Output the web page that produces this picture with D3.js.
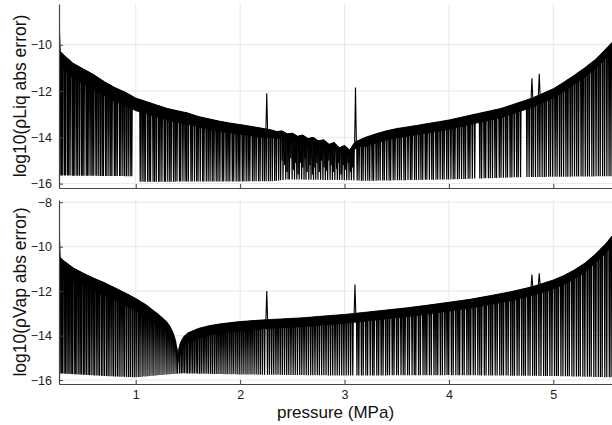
<!DOCTYPE html>
<html>
<head>
<meta charset="utf-8">
<script src="https://cdn.jsdelivr.net/npm/d3@7"></script>
<style>
  body { margin: 0; background: #fff; }
  text { font-family: "Liberation Sans", Arial, sans-serif; }
</style>
</head>
<body>
<script>
// ---- data (pressure in MPa, values are log10 errors) ----

// liquid density error: upper edge of the dense band and lower edge of the band
var liqP = [0.265,0.28,0.3,0.4,0.5,0.6,0.7,0.8,0.9,1.0,1.1,1.2,1.3,1.4,1.5,1.6,1.7,1.8,1.9,2.0,2.1,2.2,2.3,2.35,2.4,2.45,2.5,2.55,2.6,2.65,2.7,2.75,2.8,2.85,2.9,2.95,3.0,3.05,3.1,3.15,3.2,3.3,3.4,3.5,3.6,3.7,3.8,3.9,4.0,4.1,4.2,4.3,4.4,4.5,4.6,4.7,4.8,4.9,5.0,5.1,5.2,5.3,5.4,5.5,5.562];
var liqTop = [-10.15,-10.3,-10.4,-10.8,-11.05,-11.3,-11.6,-11.85,-12.05,-12.3,-12.45,-12.6,-12.75,-12.85,-12.95,-13.1,-13.2,-13.3,-13.38,-13.45,-13.52,-13.6,-13.68,-13.75,-13.72,-13.85,-13.82,-13.95,-13.9,-14.05,-14.0,-14.15,-14.1,-14.3,-14.22,-14.45,-14.35,-14.55,-14.2,-14.1,-14.0,-13.85,-13.72,-13.62,-13.55,-13.48,-13.4,-13.33,-13.25,-13.15,-13.05,-12.95,-12.85,-12.75,-12.6,-12.45,-12.3,-12.1,-11.9,-11.62,-11.32,-11.0,-10.65,-10.2,-9.9];
var liqBand = [-10.9,-10.95,-11.05,-11.45,-11.7,-11.95,-12.2,-12.45,-12.62,-12.85,-12.98,-13.12,-13.25,-13.35,-13.43,-13.56,-13.65,-13.74,-13.8,-13.87,-13.93,-14.0,-14.0,-14.05,-14.02,-14.15,-14.12,-14.25,-14.2,-14.35,-14.3,-14.45,-14.4,-14.6,-14.52,-14.75,-14.65,-14.85,-14.5,-14.4,-14.4,-14.25,-14.12,-14.02,-13.95,-13.88,-13.8,-13.73,-13.65,-13.55,-13.45,-13.35,-13.25,-13.15,-13.0,-12.85,-12.7,-12.5,-12.3,-12.02,-11.72,-11.4,-11.05,-10.6,-10.3];
var liqFloorP = [0.265,0.96,1.04,2.3,2.45,3.0,3.2,4.0,4.7,5.562];
var liqFloorV = [-15.65,-15.68,-15.92,-15.9,-15.82,-15.85,-15.88,-15.82,-15.72,-15.68];
// pressures where the liquid error dips to machine precision
var liqDrops = [0.276,0.289,0.301,0.318,0.329,0.347,0.358,0.371,0.392,0.403,0.417,0.436,0.445,0.462,0.481,0.493,0.504,0.526,0.537,0.552,0.571,0.583,0.598,0.619,0.628,0.646,0.663,0.679,0.691,0.712,0.724,0.743,0.761,0.772,0.795,0.809,0.823,0.846,0.858,0.877,0.894,0.911,0.928,0.947,0.962,
  1.043,1.061,1.079,1.091,1.114,1.129,1.142,1.166,1.181,1.197,1.219,1.232,1.251,1.274,1.286,1.307,1.326,1.339,1.362,1.378,1.395,1.419,1.431,1.452,1.473,1.488,1.504,1.529,1.541,1.563,1.584,1.597,1.618,1.641,1.653,1.676,1.694,1.712,1.733,1.749,1.771,1.788,1.806,1.829,1.843,1.866,1.884,1.901,1.925,1.939,1.962,1.981,1.997,2.021,2.036,2.058,2.077,2.093,2.118,2.134,2.153,2.176,2.191,2.214,2.232,2.249,2.271,2.289,2.308,2.331,2.347,2.369,2.388,
  2.411,2.437,2.459,2.472,2.498,2.521,2.543,2.566,2.589,2.612,2.631,2.658,2.679,2.703,2.724,2.746,2.771,2.793,2.816,2.838,2.862,2.884,2.907,2.931,2.952,2.976,2.998,3.021,3.043,3.066,3.089,
  3.121,3.139,3.162,3.178,3.201,3.223,3.241,3.264,3.279,3.303,3.322,3.341,3.366,3.381,3.404,3.427,3.442,3.466,3.483,3.507,3.526,3.544,3.569,3.584,3.608,3.631,3.646,3.671,3.688,3.711,3.732,3.749,3.774,3.789,3.813,3.836,3.851,3.876,3.893,3.916,3.938,3.954,3.979,3.996,4.019,4.041,4.057,4.082,4.099,4.121,4.143,4.159,4.184,4.201,4.224,4.247,
  4.296,4.313,4.337,4.352,4.378,4.396,4.417,4.441,4.456,4.482,4.499,4.522,4.545,4.561,4.586,4.603,4.626,4.649,4.664,4.686,
  4.747,4.768,4.791,4.807,4.829,4.852,4.871,4.893,4.914,4.932,4.956,4.973,4.994,5.017,5.036,5.059,5.077,5.098,5.121,5.139,5.162,5.181,5.203,5.224,5.242,5.266,5.284,5.306,5.327,5.345,5.369,5.387,5.409,5.431,5.449,5.472,5.491,5.513,5.534,5.552];
// shorter dips in the noisy stretch: [pressure, lowest value]
var liqShort = [[2.403,-15.0],[2.426,-15.2],[2.449,-15.5],[2.486,-14.9],[2.51,-15.4],[2.532,-15.1],[2.555,-15.6],[2.577,-15.1],[2.6,-15.3],[2.621,-14.9],[2.641,-15.5],[2.668,-15.2],[2.692,-15.6],[2.716,-15.3],[2.735,-15.1],[2.758,-15.5],[2.779,-15.0],[2.805,-15.3],[2.829,-15.45],[2.85,-15.0],[2.872,-15.2],[2.895,-15.5],[2.924,-15.35],[2.943,-15.1],[2.967,-15.6],[2.989,-15.2],[3.012,-15.4],[3.033,-15.1],[3.057,-15.5],[3.078,-15.3]];
// isolated spikes: [pressure, peak value]
var liqSpikes = [[0.268,-9.2],[2.255,-12.1],[3.105,-11.85],[4.795,-11.45],[4.865,-11.25]];

// vapour density error
var vapP = [0.265,0.28,0.3,0.4,0.5,0.6,0.7,0.8,0.9,1.0,1.1,1.2,1.25,1.3,1.33,1.36,1.38,1.395,1.405,1.415,1.43,1.46,1.5,1.6,1.7,1.8,1.9,2.0,2.2,2.4,2.6,2.8,3.0,3.2,3.4,3.6,3.8,4.0,4.2,4.4,4.6,4.8,5.0,5.1,5.2,5.3,5.4,5.5,5.562];
var vapTop = [-10.35,-10.5,-10.6,-10.95,-11.2,-11.42,-11.62,-11.85,-12.08,-12.33,-12.62,-12.98,-13.18,-13.4,-13.6,-13.9,-14.2,-14.6,-14.9,-14.55,-14.3,-14.05,-13.88,-13.68,-13.56,-13.48,-13.42,-13.37,-13.3,-13.25,-13.2,-13.12,-13.05,-12.95,-12.85,-12.75,-12.63,-12.5,-12.37,-12.2,-12.02,-11.8,-11.5,-11.3,-11.05,-10.75,-10.35,-9.88,-9.52];
var vapBand = [-11.0,-11.1,-11.2,-11.55,-11.78,-12.0,-12.2,-12.42,-12.65,-12.88,-13.15,-13.48,-13.68,-13.88,-14.08,-14.35,-14.62,-14.95,-15.2,-15.0,-14.8,-14.55,-14.3,-14.1,-13.98,-13.9,-13.83,-13.78,-13.7,-13.65,-13.6,-13.52,-13.45,-13.35,-13.25,-13.15,-13.03,-12.9,-12.77,-12.6,-12.42,-12.2,-11.9,-11.7,-11.45,-11.15,-10.75,-10.3,-9.95];
var vapFloorP = [0.265,0.7,1.0,1.3,1.45,2.0,3.0,4.0,5.0,5.562];
var vapFloorV = [-15.7,-15.82,-15.88,-15.75,-15.7,-15.75,-15.8,-15.78,-15.82,-15.88];
var vapDrops = [0.275,0.287,0.298,0.314,0.326,0.341,0.353,0.369,0.382,0.394,0.411,0.425,0.437,0.455,0.468,0.482,0.499,0.512,0.527,0.544,0.557,0.573,0.591,0.603,0.621,0.638,0.652,0.671,0.686,0.702,0.721,0.736,0.753,0.772,0.788,0.806,0.824,0.841,0.859,0.878,0.894,0.913,0.932,0.949,0.968,0.986,1.004,1.024,1.041,1.061,1.079,1.098,1.117,1.136,1.156,1.174,1.194,1.213,1.232,1.252,1.271,1.291,1.309,1.328,1.347,1.366,1.386,1.401,
  1.421,1.437,1.452,1.466,1.483,1.497,1.514,1.529,1.546,1.562,1.579,1.594,1.612,1.628,1.646,1.663,1.681,1.698,1.717,1.734,1.753,1.771,1.789,1.808,1.826,1.845,1.864,1.882,1.902,1.921,1.939,1.959,1.978,1.997,2.017,2.036,2.056,2.075,2.095,2.114,2.134,2.154,2.173,2.193,2.213,2.234,2.262,2.281,2.302,2.322,2.343,2.363,2.384,2.404,2.425,2.446,2.466,2.487,2.508,2.528,2.549,2.571,2.591,2.612,2.633,2.654,2.676,2.696,2.717,2.739,2.759,2.781,2.802,2.823,2.845,2.866,2.887,2.909,2.93,2.951,2.973,2.994,3.016,3.037,3.058,3.079,
  3.119,3.137,3.162,3.179,3.204,3.221,3.246,3.268,3.283,3.309,3.327,3.351,3.369,3.394,3.412,3.431,3.457,3.474,3.499,3.516,3.541,3.562,3.579,3.604,3.621,3.647,3.668,3.683,3.709,3.726,3.752,3.771,3.788,3.813,3.831,3.857,3.876,3.893,3.918,3.937,3.961,3.982,3.998,4.024,4.041,4.066,4.087,4.103,4.129,4.146,4.172,4.191,4.208,4.233,4.252,4.277,4.296,4.313,4.339,4.356,4.381,4.401,4.418,4.443,4.462,4.487,4.506,4.523,4.548,4.567,4.592,4.611,4.628,4.653,4.672,4.697,4.716,4.733,4.758,4.777,4.802,4.821,4.838,4.862,4.882,4.907,4.926,4.943,4.967,4.987,5.012,5.031,5.048,5.073,5.092,5.116,5.136,5.153,5.178,5.197,5.221,5.241,5.258,5.283,5.302,5.326,5.346,5.363,5.388,5.407,5.431,5.451,5.468,5.493,5.512,5.536,5.553];
var vapShort = [];
var vapSpikes = [[0.268,-9.4],[2.255,-12.0],[3.10,-11.7],[4.795,-11.25],[4.865,-11.2]];

var xTicks = [1, 2, 3, 4, 5];

// ---- layout ----
var width = 612, height = 425;
var left = 59, right = 612;

var svg = d3.select("body").append("svg").attr("width", width).attr("height", height);

var x = d3.scaleLinear().domain([0.265, 5.562]).range([left, right]);

function panel(id, top, bottom, yDomain, yTicks, P, upper, band, floorP, floorV, drops, shorts, spikes, label, showX) {
  var y = d3.scaleLinear().domain(yDomain).range([bottom, top]);
  var envTop = d3.scaleLinear().domain(P).range(upper).clamp(true);
  var floor = d3.scaleLinear().domain(floorP).range(floorV).clamp(true);
  var w = 0.005; // half width of one dip (the trace goes down and back up)

  var g = svg.append("g");

  g.append("clipPath").attr("id", id).append("rect")
    .attr("x", left).attr("y", top).attr("width", right - left).attr("height", bottom - top);

  // grid
  g.append("g").selectAll("line").data(xTicks).enter().append("line")
    .attr("x1", function(d) { return x(d); }).attr("x2", function(d) { return x(d); })
    .attr("y1", top).attr("y2", bottom)
    .attr("stroke", "#e8e8e8").attr("stroke-width", 1);
  g.append("g").selectAll("line").data(yTicks).enter().append("line")
    .attr("x1", left).attr("x2", right)
    .attr("y1", function(d) { return y(d); }).attr("y2", function(d) { return y(d); })
    .attr("stroke", "#e8e8e8").attr("stroke-width", 1);

  var plot = g.append("g").attr("clip-path", "url(#" + id + ")");

  // dips down to the floor, drawn as narrow V's
  plot.append("g").selectAll("path").data(drops).enter().append("path")
    .attr("d", function(d) {
      return "M" + x(d - w) + "," + y(envTop(d - w)) +
             "L" + x(d) + "," + y(floor(d)) +
             "L" + x(d + w) + "," + y(envTop(d + w));
    })
    .attr("fill", "none").attr("stroke", "#000").attr("stroke-width", 1.2);

  plot.append("g").selectAll("path").data(shorts).enter().append("path")
    .attr("d", function(d) {
      return "M" + x(d[0] - w) + "," + y(envTop(d[0] - w)) +
             "L" + x(d[0]) + "," + y(d[1]) +
             "L" + x(d[0] + w) + "," + y(envTop(d[0] + w));
    })
    .attr("fill", "none").attr("stroke", "#000").attr("stroke-width", 1);

  // dense band of the oscillating error
  var rows = P.map(function(p, i) { return {p: p, hi: upper[i], lo: band[i]}; });
  plot.append("path").datum(rows)
    .attr("d", d3.area()
      .x(function(d) { return x(d.p); })
      .y0(function(d) { return y(d.lo); })
      .y1(function(d) { return y(d.hi); }))
    .attr("fill", "#000").attr("stroke", "#000").attr("stroke-width", 0.8);

  // spikes
  plot.append("g").selectAll("path").data(spikes).enter().append("path")
    .attr("d", function(d) {
      return "M" + x(d[0] - 0.008) + "," + y(envTop(d[0] - 0.008)) +
             "L" + x(d[0]) + "," + y(d[1]) +
             "L" + x(d[0] + 0.008) + "," + y(envTop(d[0] + 0.008));
    })
    .attr("fill", "none").attr("stroke", "#000").attr("stroke-width", 1.1);

  // axes
  var yAxis = d3.axisLeft(y).tickValues(yTicks).tickSizeInner(-4).tickSizeOuter(0).tickPadding(7);
  var ya = g.append("g").attr("transform", "translate(" + left + ",0)").call(yAxis);
  ya.select(".domain").attr("stroke", "#444").attr("stroke-width", 1.2);
  ya.selectAll(".tick line").attr("stroke", "#444");
  ya.selectAll(".tick text").attr("font-size", 12.5).attr("fill", "#222")
    .attr("font-family", "Liberation Sans, Arial, sans-serif");

  var xAxis = d3.axisBottom(x).tickValues(xTicks).tickSizeInner(-4).tickSizeOuter(0).tickPadding(6)
    .tickFormat(showX ? d3.format("d") : "");
  var xa = g.append("g").attr("transform", "translate(0," + bottom + ")").call(xAxis);
  xa.select(".domain").attr("stroke", "#444").attr("stroke-width", 1.2);
  xa.selectAll(".tick line").attr("stroke", "#444");
  xa.selectAll(".tick text").attr("font-size", 12.5).attr("fill", "#222")
    .attr("font-family", "Liberation Sans, Arial, sans-serif");

  g.append("text")
    .attr("transform", "translate(20," + ((top + bottom) / 2) + ") rotate(-90)")
    .attr("text-anchor", "middle").attr("dy", "0.35em")
    .attr("font-size", 17.5).attr("fill", "#111")
    .text(label);
}

panel("clipLiq", 4, 188, [-16.19, -8.24], [-16, -14, -12, -10],
  liqP, liqTop, liqBand, liqFloorP, liqFloorV, liqDrops, liqShort, liqSpikes, "log10(ρLiq abs error)", false);
panel("clipVap", 200, 384, [-16.18, -7.9], [-16, -14, -12, -10, -8],
  vapP, vapTop, vapBand, vapFloorP, vapFloorV, vapDrops, vapShort, vapSpikes, "log10(ρVap abs error)", true);

svg.append("text")
  .attr("x", (left + right) / 2).attr("y", 418)
  .attr("text-anchor", "middle")
  .attr("font-size", 17).attr("fill", "#111")
  .text("pressure (MPa)");
</script>
</body>
</html>
